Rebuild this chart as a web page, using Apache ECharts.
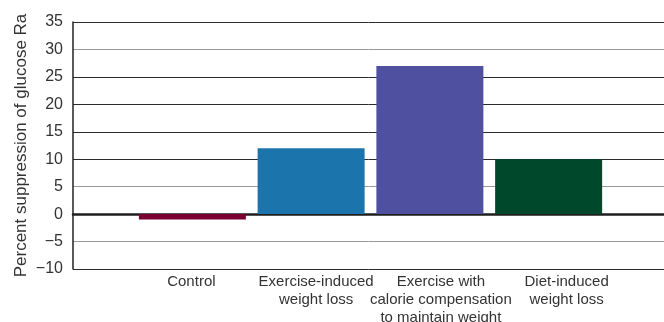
<!DOCTYPE html>
<html>
<head>
<meta charset="utf-8">
<script src="https://cdn.jsdelivr.net/npm/echarts@6/dist/echarts.min.js"></script>
<style>
  html, body { margin: 0; padding: 0; background: #fff; }
  #chart { width: 664px; height: 322px; }
</style>
</head>
<body>
<div id="chart"></div>
<script>
// Groups and their mean percent suppression of glucose Ra
const categories = [
  'Control',
  'Exercise-induced\nweight loss',
  'Exercise with\ncalorie compensation\nto maintain weight',
  'Diet-induced\nweight loss'
];
const values = [-1, 12, 27, 10];
const barColors = ['#7a0031', '#1c74ac', '#5050a0', '#00482b'];

const yMin = -10, yMax = 35, yStep = 5;
const yTitle = 'Percent suppression of glucose Ra';

// horizontal nudge (px) of each category caption relative to its bar centre
const captionShift = [-1, 5, 11, 18];

// gridline shades, cycling from the bottom tick upward
const gridShades = ['#2b2b2b', '#999', '#2b2b2b', '#999', '#2b2b2b', '#2b2b2b', '#2b2b2b', '#2b2b2b', '#999', '#2b2b2b'];

const font = '"Liberation Sans", Arial, sans-serif';
const textColor = '#333';

const categoryItems = categories.map((c, i) => {
  const s = captionShift[i];
  return {
    value: c,
    textStyle: { padding: s >= 0 ? [0, 0, 0, 2 * s] : [0, -2 * s, 0, 0] }
  };
});

const chart = echarts.init(document.getElementById('chart'));
chart.setOption({
  animation: false,
  grid: [
    // frame with the y scale and gridlines
    { left: 73, right: 0, top: 22, bottom: 53, outerBoundsMode: 'none' },
    // inner band where the bars sit
    { left: 133, right: 56, top: 22, bottom: 53, outerBoundsMode: 'none' }
  ],
  xAxis: [
    {
      gridIndex: 0, type: 'value', min: 0, max: 1,
      axisLine: { show: true, onZero: true, lineStyle: { color: '#1e1e1e', width: 2.5 } },
      axisTick: { show: false }, axisLabel: { show: false }, splitLine: { show: false }
    },
    {
      gridIndex: 1, type: 'category', data: categoryItems,
      axisLine: { show: false }, axisTick: { show: false },
      axisLabel: {
        interval: 0, margin: 4, color: textColor, fontFamily: font,
        fontSize: 15, lineHeight: 18, verticalAlign: 'top'
      }
    }
  ],
  yAxis: [
    {
      gridIndex: 0, type: 'value', min: yMin, max: yMax, interval: yStep,
      name: yTitle, nameLocation: 'middle', nameGap: 43, nameMoveOverlap: false,
      nameTextStyle: { color: textColor, fontFamily: font, fontSize: 17 },
      axisLine: { show: true, lineStyle: { color: '#222', width: 1.5 } },
      axisTick: { show: false },
      axisLabel: {
        color: textColor, fontFamily: font, fontSize: 16, margin: 10,
        formatter: v => String(v).replace('-', '\u2212')
      },
      splitLine: { show: true, lineStyle: { color: gridShades, width: 1 } }
    },
    {
      gridIndex: 1, type: 'value', min: yMin, max: yMax, interval: yStep,
      axisLine: { show: false }, axisTick: { show: false },
      axisLabel: { show: false }, splitLine: { show: false }
    }
  ],
  series: [{
    type: 'bar',
    xAxisIndex: 1, yAxisIndex: 1,
    barWidth: 107,
    data: values.map((v, i) => ({ value: v, itemStyle: { color: barColors[i] } }))
  }]
});
</script>
</body>
</html>
